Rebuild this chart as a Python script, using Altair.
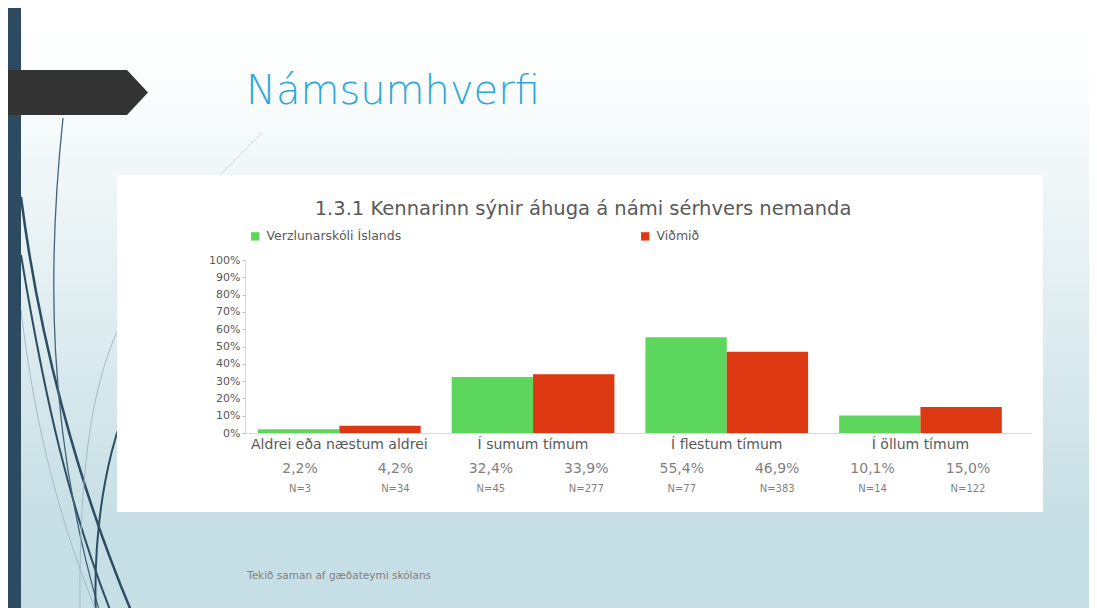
import altair as alt
import pandas as pd

# ---------------- data ----------------
categories = ["Aldrei eða næstum aldrei", "Í sumum tímum", "Í flestum tímum", "Í öllum tímum"]
series = ["Verzlunarskóli Íslands", "Viðmið"]
vi_values = [2.2, 32.4, 55.4, 10.1]
vidmid_values = [4.2, 33.9, 46.9, 15.0]
vi_n = [3, 45, 77, 14]
vidmid_n = [34, 277, 383, 122]
y_ticks = [0, 0.1, 0.2, 0.3, 0.4, 0.5, 0.6, 0.7, 0.8, 0.9, 1.0]
slide_title = "Námsumhverfi"
chart_title = "1.3.1 Kennarinn sýnir áhuga á námi sérhvers nemanda"
footer_text = "Tekið saman af gæðateymi skólans"
colors = ["#5cd65c", "#dc3912"]

W, H = 1081, 600
OFF = 8  # page margin: reference pixel -> chart pixel
FONT = "DejaVu Sans"

rows = []
col = 0
for i, c in enumerate(categories):
    for s, vals, ns in [(series[0], vi_values, vi_n), (series[1], vidmid_values, vidmid_n)]:
        rows.append({
            "cat": c, "series": s, "value": vals[i] / 100.0,
            "pct": f"{vals[i]:.1f}".replace(".", ",") + "%",
            "n": f"N={ns[i]}", "col": col,
        })
        col += 1
df = pd.DataFrame(rows)
one = pd.DataFrame({"k": [0]})


def r(v):
    return v - OFF


# ---------------- decoration ----------------
bg = alt.Chart(one).mark_rect(
    color=alt.LinearGradient(
        gradient="linear", x1=0, x2=0, y1=0, y2=1,
        stops=[alt.GradientStop(color="#ffffff", offset=0),
               alt.GradientStop(color="#fbfdfd", offset=0.12),
               alt.GradientStop(color="#c7dfe5", offset=0.85),
               alt.GradientStop(color="#c6dee5", offset=1)])
).encode(x=alt.value(0), x2=alt.value(W), y=alt.value(0), y2=alt.value(H))

# decorative swooshes (reference pixel coords, converted to a symbol path)
CX, CY, S = 150, 380, 260


def curve(pts):
    out = []
    for cmd, xy in pts:
        coords = ",".join(f"{(x - CX) / S:.4f},{(y - CY) / S:.4f}" for x, y in xy)
        out.append(cmd + coords)
    return "".join(out)


swooshes = pd.DataFrame([
    {"path": curve([("M", [(21, 197)]), ("C", [(38, 330), (75, 480), (135, 620)])]), "c": "#2e4d62", "w": 2.5},
    {"path": curve([("M", [(21, 255)]), ("C", [(45, 400), (70, 510), (114, 620)])]), "c": "#2e4d62", "w": 2.0},
    {"path": curve([("M", [(63, 118)]), ("C", [(48, 260), (45, 430), (102, 620)])]), "c": "#45637a", "w": 1.3},
    {"path": curve([("M", [(140, 380)]), ("C", [(110, 430), (92, 520), (96, 620)])]), "c": "#2e4d62", "w": 2.0},
    {"path": curve([("M", [(140, 290)]), ("C", [(100, 350), (78, 430), (80, 620)])]), "c": "#a3bcc7", "w": 1.0},
    {"path": curve([("M", [(21, 310)]), ("C", [(35, 430), (62, 530), (100, 620)])]), "c": "#a3bcc7", "w": 1.0},
    {"path": curve([("M", [(263, 132)]), ("L", [(200, 195)])]), "c": "#ccd9de", "w": 1.0},
])
curves = alt.Chart(swooshes).mark_point(filled=False, opacity=1).encode(
    x=alt.value(r(CX)), y=alt.value(r(CY)), size=alt.value((2 * S) ** 2),
    shape=alt.Shape("path:N", scale=None),
    stroke=alt.Stroke("c:N", scale=None),
    strokeWidth=alt.StrokeWidth("w:Q", scale=None),
)

left_bar = alt.Chart(one).mark_rect(color="#2c4b60").encode(
    x=alt.value(0), x2=alt.value(r(21)), y=alt.value(0), y2=alt.value(H))

arrow = alt.Chart(one).mark_point(
    filled=True, opacity=1, color="#333333",
    shape="M-1,-0.319L0.702,-0.319L1,0L0.702,0.319L-1,0.319Z"
).encode(x=alt.value(r(77.5)), y=alt.value(r(92.5)), size=alt.value(141 ** 2))

title = alt.Chart(one).mark_text(
    text=slide_title, font=FONT, fontSize=40, fontWeight=300, color="#2ea7da",
    align="left", baseline="alphabetic"
).encode(x=alt.value(r(246)), y=alt.value(r(104)))

panel = alt.Chart(one).mark_rect(color="#ffffff").encode(
    x=alt.value(r(117)), x2=alt.value(r(1043)), y=alt.value(r(175)), y2=alt.value(r(512)))

ctitle = alt.Chart(one).mark_text(
    text=chart_title, font=FONT, fontSize=19.5, color="#595959",
    align="center", baseline="alphabetic"
).encode(x=alt.value(r(583)), y=alt.value(r(215)))

# ---------------- chart ----------------
bars = alt.Chart(df).mark_bar().encode(
    x=alt.X("cat:N", sort=categories,
            scale=alt.Scale(range=[r(242.5), r(1017.3)], paddingInner=0.16, paddingOuter=0.08),
            axis=alt.Axis(title=None, labelAngle=0, labelFont=FONT, labelFontSize=14,
                          labelColor="#595959", domain=False, ticks=False, tickSize=0,
                          labelPadding=4, labelLimit=400, labelOverlap=False, zindex=2,
                          offset=-(H - r(433)))),
    xOffset=alt.XOffset("series:N", sort=series),
    y=alt.Y("value:Q", scale=alt.Scale(domain=[0, 1], range=[r(433), r(260)]),
            axis=alt.Axis(title=None, format=".0%", values=y_ticks, grid=False,
                          labelFont=FONT, labelFontSize=11, labelColor="#595959",
                          domainColor="#d9d9d9", tickColor="#bfbfbf", tickSize=3,
                          labelPadding=2, labelOverlap=False, zindex=2, offset=-r(245))),
    color=alt.Color("series:N", sort=series,
                    scale=alt.Scale(domain=series, range=colors),
                    legend=alt.Legend(title=None, orient="none", direction="horizontal",
                                      legendX=r(249), legendY=r(230), zindex=2,
                                      symbolType="square", symbolSize=70, symbolStrokeWidth=0,
                                      labelFont=FONT, labelFontSize=12.5, labelColor="#595959",
                                      labelOffset=5, columnPadding=237)),
)

xline = alt.Chart(one).mark_rule(color="#d9d9d9", strokeWidth=1).encode(
    x=alt.value(r(245)), x2=alt.value(r(1032)), y=alt.value(r(433.5)))

colscale = alt.Scale(range=[r(252.3), r(1015.7)])
pct = alt.Chart(df).mark_text(font=FONT, fontSize=14, color="#7f7f7f", baseline="middle").encode(
    x=alt.X("col:O", scale=colscale, axis=None), y=alt.value(r(469)), text="pct:N")
nlab = alt.Chart(df).mark_text(font=FONT, fontSize=10, color="#7f7f7f", baseline="middle").encode(
    x=alt.X("col:O", scale=colscale, axis=None), y=alt.value(r(489)), text="n:N")

footer = alt.Chart(one).mark_text(
    text=footer_text, font=FONT, fontSize=10.5, color="#7f7f7f", align="left", baseline="middle"
).encode(x=alt.value(r(247)), y=alt.value(r(576)))

chart = alt.layer(
    bg, curves, left_bar, arrow, title, panel, ctitle, xline, bars, pct, nlab, footer
).resolve_scale(x="independent").properties(
    width=W, height=H, padding=0, autosize=alt.AutoSizeParams(type="none")
).configure_view(stroke=None)

chart.save("out.html", embed_options={"renderer": "svg", "actions": False})
